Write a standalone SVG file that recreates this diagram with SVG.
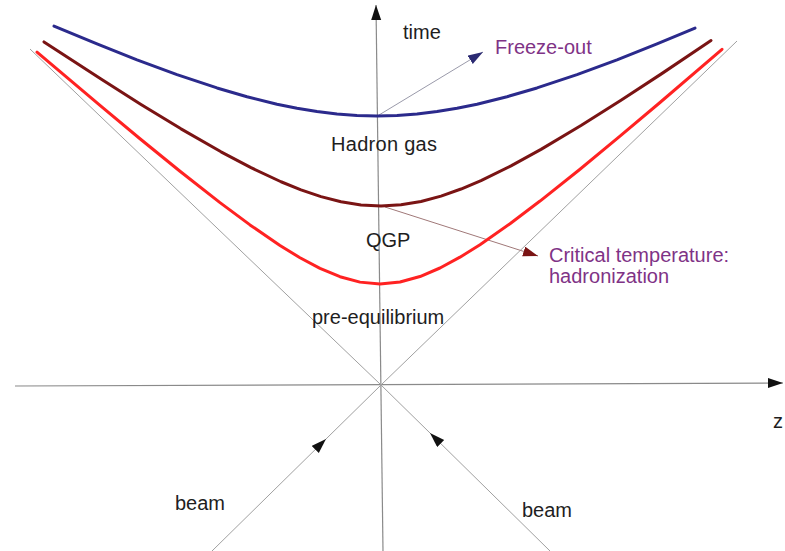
<svg xmlns="http://www.w3.org/2000/svg" width="785" height="551" viewBox="0 0 785 551">
  <style>
    .axis { stroke: #8a8a8a; stroke-width: 1.2; fill: none; }
    .cone { stroke: #a0a0a0; stroke-width: 1; fill: none; }
    .curve { fill: none; stroke-width: 3; stroke-linejoin: round; stroke-linecap: round; }
    .lbl { font-family: "Liberation Sans", Arial, sans-serif; font-size: 20px; fill: #1e1e1e; }
    .plbl { font-family: "Liberation Sans", Arial, sans-serif; font-size: 20px; fill: #7f3386; }
  </style>
  <defs>
    <marker id="ahBlack" markerUnits="userSpaceOnUse" markerWidth="15" markerHeight="11" refX="15" refY="5" orient="auto">
      <path d="M0,0 L15,5 L0,10 z" fill="#111"/>
    </marker>
    <marker id="ahNavy" markerUnits="userSpaceOnUse" markerWidth="15" markerHeight="11" refX="15" refY="5" orient="auto">
      <path d="M0,0 L15,5 L0,10 z" fill="#2b2a72"/>
    </marker>
    <marker id="ahRed" markerUnits="userSpaceOnUse" markerWidth="15" markerHeight="11" refX="15" refY="5" orient="auto">
      <path d="M0,0 L15,5 L0,10 z" fill="#7a1414"/>
    </marker>
  </defs>

  <rect width="785" height="551" fill="#ffffff"/>

  <g id="connectors">
    <line class="axis" x1="15" y1="386" x2="783" y2="383" marker-end="url(#ahBlack)"/>
    <line class="axis" x1="383" y1="551" x2="376" y2="5" marker-end="url(#ahBlack)"/>
    <line class="cone" x1="30" y1="49" x2="380" y2="384"/>
    <line class="cone" x1="737" y1="41" x2="381" y2="385"/>
    <line class="cone" x1="212" y1="551" x2="326" y2="439" marker-end="url(#ahBlack)"/>
    <line class="cone" x1="326" y1="439" x2="381" y2="385"/>
    <line class="cone" x1="550" y1="551" x2="430" y2="433" marker-end="url(#ahBlack)"/>
    <line class="cone" x1="430" y1="433" x2="380" y2="384"/>
    <line x1="379" y1="115" x2="483" y2="52" stroke="#9a9aaa" stroke-width="1" marker-end="url(#ahNavy)"/>
    <line x1="385" y1="207" x2="538" y2="256" stroke="#a07878" stroke-width="1" marker-end="url(#ahRed)"/>
  </g>

  <g id="freeze-out-curve">
    <path class="curve" stroke="#2b2a8c" d="M54,26.05 L97,43.95 L137,59.8 L177,74.58 L217,87.94 L247,96.73 L277,104.2 L297,108.3 L317,111.6 L337,114.02 L357,115.5 L377,116 L397,115.5 L417,114.02 L437,111.6 L457,108.3 L477,104.2 L507,96.73 L537,87.94 L577,74.58 L617,59.8 L657,43.95 L695,28.17"/>
  </g>
  <g id="hadronization-curve">
    <path class="curve" stroke="#7a1414" d="M44,41.9 L101,79.1 L141,104.44 L181,128.83 L221,151.81 L251,167.65 L281,181.76 L301,189.85 L321,196.6 L341,201.71 L361,204.91 L381,206 L401,204.85 L421,201.47 L441,196.09 L461,189.02 L481,180.55 L511,165.84 L541,149.36 L581,125.53 L621,100.29 L661,74.12 L711,40.52"/>
  </g>
  <g id="equilibrium-curve">
    <path class="curve" stroke="#ff2222" d="M37,52.17 L100,105.47 L140,138.73 L180,171.26 L220,202.62 L250,224.91 L280,245.48 L300,257.76 L320,268.37 L340,276.71 L360,282.12 L380,284 L400,282.07 L420,276.54 L440,268 L460,257.17 L480,244.66 L510,223.72 L540,201.06 L580,169.22 L620,136.21 L660,102.48 L722,49.31"/>
  </g>

  <g id="label-time"><text class="lbl" x="403" y="39">time</text></g>
  <g id="label-freeze-out"><text class="plbl" x="495" y="54">Freeze-out</text></g>
  <g id="label-hadron-gas"><text class="lbl" x="331" y="151" textLength="106">Hadron gas</text></g>
  <g id="label-qgp"><text class="lbl" x="366" y="247">QGP</text></g>
  <g id="label-critical">
    <text class="plbl" x="549" y="262">Critical temperature:</text>
    <text class="plbl" x="549" y="283">hadronization</text>
  </g>
  <g id="label-pre-equilibrium"><text class="lbl" x="312" y="324">pre-equilibrium</text></g>
  <g id="label-beam-left"><text class="lbl" x="175" y="510">beam</text></g>
  <g id="label-beam-right"><text class="lbl" x="522" y="517">beam</text></g>
  <g id="label-z"><text class="lbl" x="773" y="428">z</text></g>
</svg>
